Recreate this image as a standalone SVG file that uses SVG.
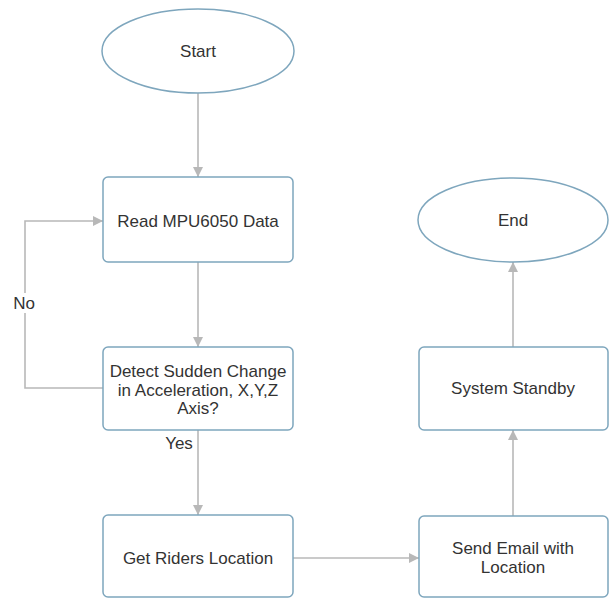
<svg xmlns="http://www.w3.org/2000/svg" width="614" height="599" viewBox="0 0 614 599">
<style>
.node{fill:#ffffff;stroke:#7ea6bd;stroke-width:1.5}
.lbl{font-family:"Liberation Sans",Arial,sans-serif;font-size:17px;fill:#333333;text-anchor:middle}
.edge{fill:none;stroke:#b8b8b8;stroke-width:1.6}
</style>
<defs>
<marker id="arr" viewBox="0 0 10 10" refX="10" refY="5" markerWidth="10" markerHeight="10" markerUnits="userSpaceOnUse" orient="auto">
<path d="M0,0 L10,5 L0,10 z" fill="#b8b8b8"/>
</marker>
</defs>
<rect width="614" height="599" fill="#ffffff"/>
<g id="connectors">
<path class="edge" d="M198,93 V177" marker-end="url(#arr)"/>
<path class="edge" d="M198,262 V347" marker-end="url(#arr)"/>
<path class="edge" d="M103,388 H25 V221 H103" marker-end="url(#arr)"/>
<path class="edge" d="M198,430 V515" marker-end="url(#arr)"/>
<path class="edge" d="M293,558 H419" marker-end="url(#arr)"/>
<path class="edge" d="M513,516 V430" marker-end="url(#arr)"/>
<path class="edge" d="M513,347 V262" marker-end="url(#arr)"/>
<rect x="12" y="293" width="25" height="20" fill="#ffffff"/>
<text class="lbl" x="24" y="309">No</text>
<text class="lbl" x="179" y="449">Yes</text>
</g>
<g id="start">
<ellipse class="node" cx="198" cy="51" rx="96" ry="42"/>
<text class="lbl" x="198" y="57">Start</text>
</g>
<g id="read">
<rect class="node" x="103" y="177" width="190" height="85" rx="5"/>
<text class="lbl" x="198" y="227">Read MPU6050 Data</text>
</g>
<g id="detect">
<rect class="node" x="103" y="347" width="190" height="83" rx="5"/>
<text class="lbl" x="198" y="377">Detect Sudden Change</text>
<text class="lbl" x="198" y="396">in Acceleration, X,Y,Z</text>
<text class="lbl" x="198" y="414">Axis?</text>
</g>
<g id="getloc">
<rect class="node" x="103" y="515" width="190" height="82" rx="5"/>
<text class="lbl" x="198" y="564">Get Riders Location</text>
</g>
<g id="sendemail">
<rect class="node" x="419" y="516" width="189" height="81" rx="5"/>
<text class="lbl" x="513" y="554">Send Email with</text>
<text class="lbl" x="513" y="573">Location</text>
</g>
<g id="standby">
<rect class="node" x="419" y="347" width="189" height="83" rx="5"/>
<text class="lbl" x="513" y="394">System Standby</text>
</g>
<g id="end">
<ellipse class="node" cx="513" cy="220" rx="95" ry="42"/>
<text class="lbl" x="513" y="226">End</text>
</g>
</svg>
